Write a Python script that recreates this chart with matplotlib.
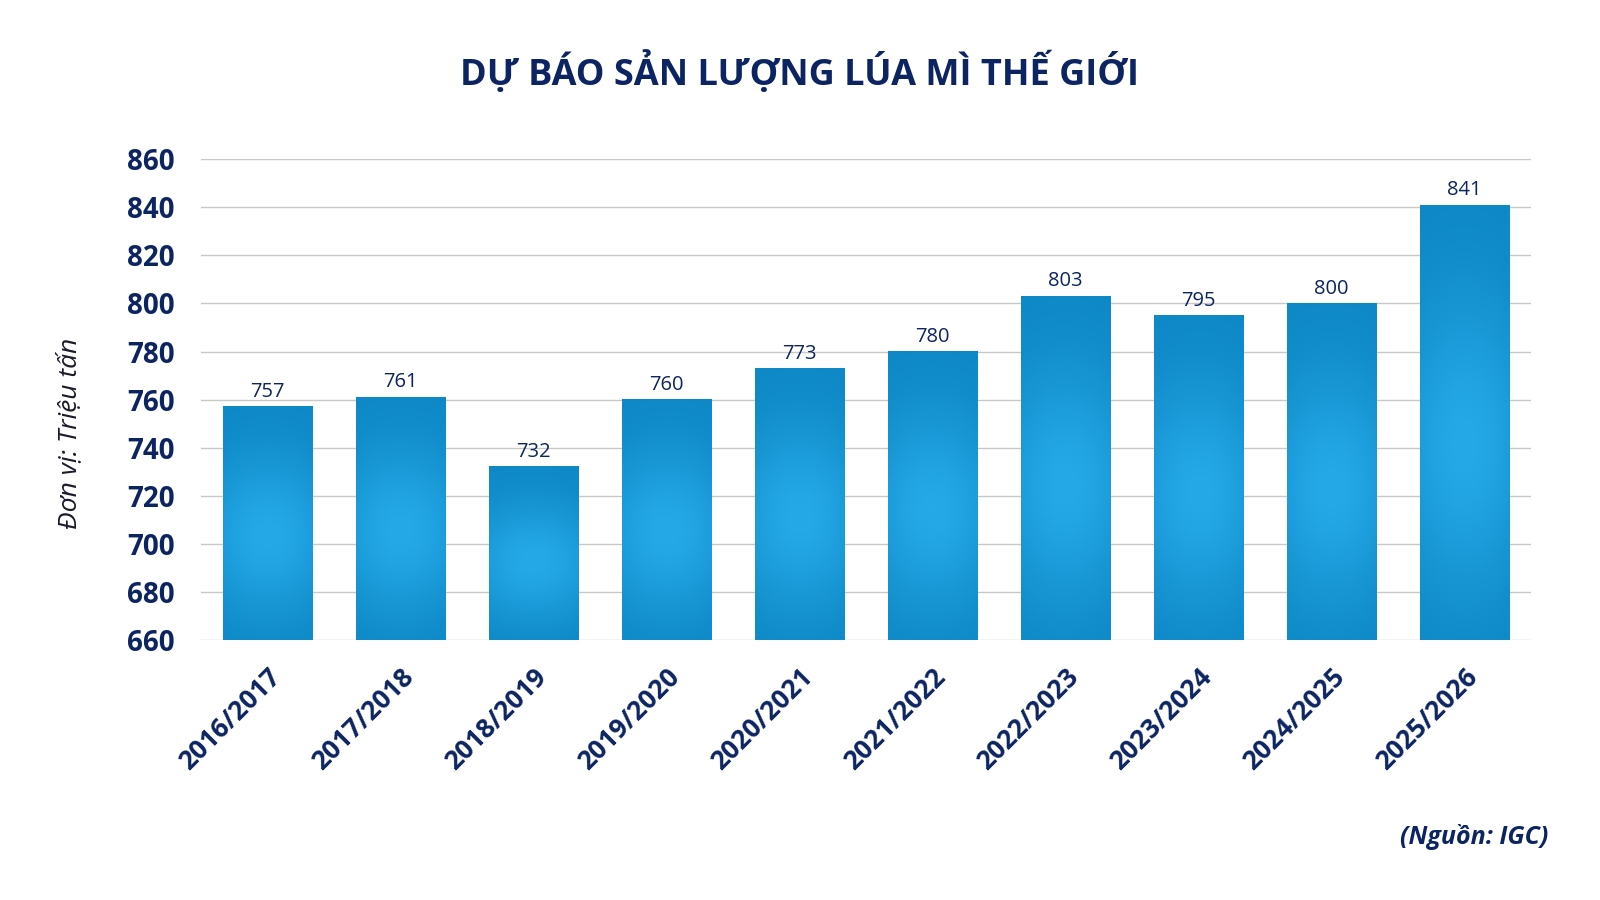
import numpy as np
import matplotlib
matplotlib.use("Agg")
import matplotlib.pyplot as plt
from matplotlib.colors import LinearSegmentedColormap
from matplotlib.transforms import ScaledTranslation

plt.rcParams['font.family'] = ['Open Sans', 'DejaVu Sans']

seasons = ["2016/2017", "2017/2018", "2018/2019", "2019/2020", "2020/2021",
           "2021/2022", "2022/2023", "2023/2024", "2024/2025", "2025/2026"]
production = [757, 761, 732, 760, 773, 780, 803, 795, 800, 841]
y_ticks = [660, 680, 700, 720, 740, 760, 780, 800, 820, 840, 860]

navy = "#0c2461"
cmap = LinearSegmentedColormap.from_list("bar", ["#0d86c4", "#25a9e7"])

fig = plt.figure(figsize=(16, 9), dpi=100)
ax = fig.add_axes([0.1256, 0.289, 0.831, 0.534])

# gradient image: lighter in the middle, darker at top/bottom and edges
ny, nx = 200, 60
yy = np.linspace(0, 1, ny)[:, None]
xx = np.linspace(-1, 1, nx)[None, :]
grad = np.exp(-((yy - 0.45) / 0.35) ** 2) * (1 - 0.35 * xx ** 2)

width = 0.67
base = 660
for i, v in enumerate(production):
    x0, x1 = i - width / 2, i + width / 2
    ax.imshow(grad, cmap=cmap, extent=(x0, x1, base, v), aspect='auto',
              origin='lower', vmin=0, vmax=1, zorder=2, interpolation='bilinear')
    ax.text(i, v + 2, str(v), ha='center', va='bottom', fontsize=14.5,
            color=navy, zorder=3)

ax.set_xlim(-0.5, 9.5)
ax.set_ylim(660, 860)
ax.set_yticks(y_ticks)
ax.set_yticklabels([str(t) for t in y_ticks], fontsize=20, fontweight='bold', color=navy)
ax.set_xticks(range(len(seasons)))
ax.set_xticklabels(seasons, rotation=45, ha='right', rotation_mode='anchor',
                   fontsize=19, fontweight='bold', color=navy)
shift = ScaledTranslation(-0.06, 0, fig.dpi_scale_trans)
for lab in ax.get_xticklabels():
    lab.set_transform(lab.get_transform() + shift)
ax.tick_params(axis='both', length=0)
ax.tick_params(axis='y', pad=19)
ax.tick_params(axis='x', pad=17)
ax.grid(axis='y', color='#c8c8c8', linewidth=1, zorder=0)
ax.set_axisbelow(True)
for s in ax.spines.values():
    s.set_visible(False)

fig.text(0.043, 0.519, "Đơn vị: Triệu tấn", rotation=90, ha='center', va='center',
         fontsize=19, style='italic', color='#1a1a2a')

fig.text(0.5, 0.919, "DỰ BÁO SẢN LƯỢNG LÚA MÌ THẾ GIỚI", ha='center', va='center',
         fontsize=26, fontweight='bold', color=navy)
fig.text(0.968, 0.07, "(Nguồn: IGC)", ha='right', va='center', fontsize=18,
         fontweight='bold', style='italic', color=navy)

fig.savefig("out.png", dpi=100)
